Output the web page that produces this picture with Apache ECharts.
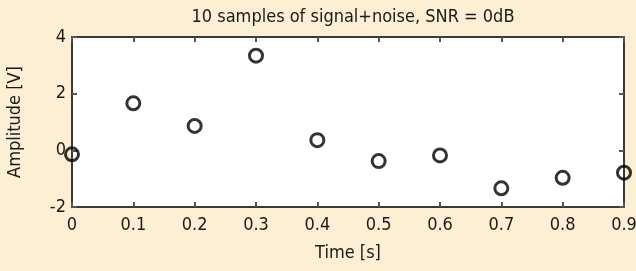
<!DOCTYPE html>
<html>
<head>
<meta charset="utf-8">
<script src="https://cdn.jsdelivr.net/npm/echarts@6/dist/echarts.min.js"></script>
<style>
  html, body { margin: 0; padding: 0; background: #fdefd3; }
  #chart { width: 636px; height: 271px; }
</style>
</head>
<body>
<div id="chart"></div>
<script>
// sample times [s] and measured amplitude [V]
var times = [0, 0.1, 0.2, 0.3, 0.4, 0.5, 0.6, 0.7, 0.8, 0.9];
var amplitude = [-0.14, 1.66, 0.86, 3.34, 0.36, -0.38, -0.18, -1.34, -0.97, -0.79];
var yTicks = [-2, 0, 2, 4];

var font = '"DejaVu Sans Condensed", "DejaVu Sans", sans-serif';

function getOption() {
  var pts = [];
  for (var i = 0; i < times.length; i++) {
    pts.push([times[i], amplitude[i]]);
  }
  var lineStyle = { color: '#3a3a3a', width: 2 };
  var tickStyle = { color: '#555555', width: 2 };
  return {
    backgroundColor: '#fdefd3',
    animation: false,
    title: {
      text: '10 samples of signal+noise, SNR = 0dB',
      left: 348, top: 3, textAlign: 'center',
      textStyle: { fontFamily: font, fontWeight: 'normal', fontSize: 18, color: '#1a1a1a' }
    },
    grid: { left: 72, right: 12, top: 37, bottom: 64, outerBoundsMode: 'none',
      backgroundColor: '#ffffff', show: true, borderWidth: 0 },
    xAxis: [{
      type: 'value', min: 0, max: 0.9, interval: 0.1,
      name: 'Time [s]', nameLocation: 'middle', nameGap: 37,
      nameTextStyle: { fontFamily: font, fontSize: 18, color: '#1a1a1a' },
      axisLine: { show: true, onZero: false, lineStyle: lineStyle },
      axisTick: { show: true, inside: true, length: 5, lineStyle: tickStyle },
      axisLabel: { fontFamily: font, fontSize: 18, color: '#1a1a1a', margin: 9,
        formatter: function (v) { return String(Math.round(v * 10) / 10); } },
      splitLine: { show: false }
    }, {
      type: 'value', position: 'top', min: 0, max: 0.9, interval: 0.1,
      axisLine: { show: true, onZero: false, lineStyle: lineStyle },
      axisTick: { show: true, inside: true, length: 5, lineStyle: tickStyle },
      axisLabel: { show: false }, splitLine: { show: false }
    }],
    yAxis: [{
      type: 'value', min: yTicks[0], max: yTicks[yTicks.length - 1], interval: 2,
      name: 'Amplitude [V]', nameLocation: 'middle', nameGap: 48,
      nameTextStyle: { fontFamily: font, fontSize: 18, color: '#1a1a1a' },
      axisLine: { show: true, onZero: false, lineStyle: lineStyle },
      axisTick: { show: true, inside: true, length: 5, lineStyle: tickStyle },
      axisLabel: { fontFamily: font, fontSize: 18, color: '#1a1a1a', margin: 6 },
      splitLine: { show: false }
    }, {
      type: 'value', position: 'right', min: yTicks[0], max: yTicks[yTicks.length - 1], interval: 2,
      axisLine: { show: true, onZero: false, lineStyle: lineStyle },
      axisTick: { show: true, inside: true, length: 5, lineStyle: tickStyle },
      axisLabel: { show: false }, splitLine: { show: false }
    }],
    series: [{
      type: 'scatter',
      data: pts,
      symbol: 'circle',
      symbolSize: 13,
      clip: false,
      itemStyle: { color: 'rgba(0,0,0,0)', borderColor: '#000000', borderWidth: 3 }
    }]
  };
}

window.addEventListener('load', function () {
  var chart = echarts.init(document.getElementById('chart'));
  chart.setOption(getOption());
});
</script>
</body>
</html>
